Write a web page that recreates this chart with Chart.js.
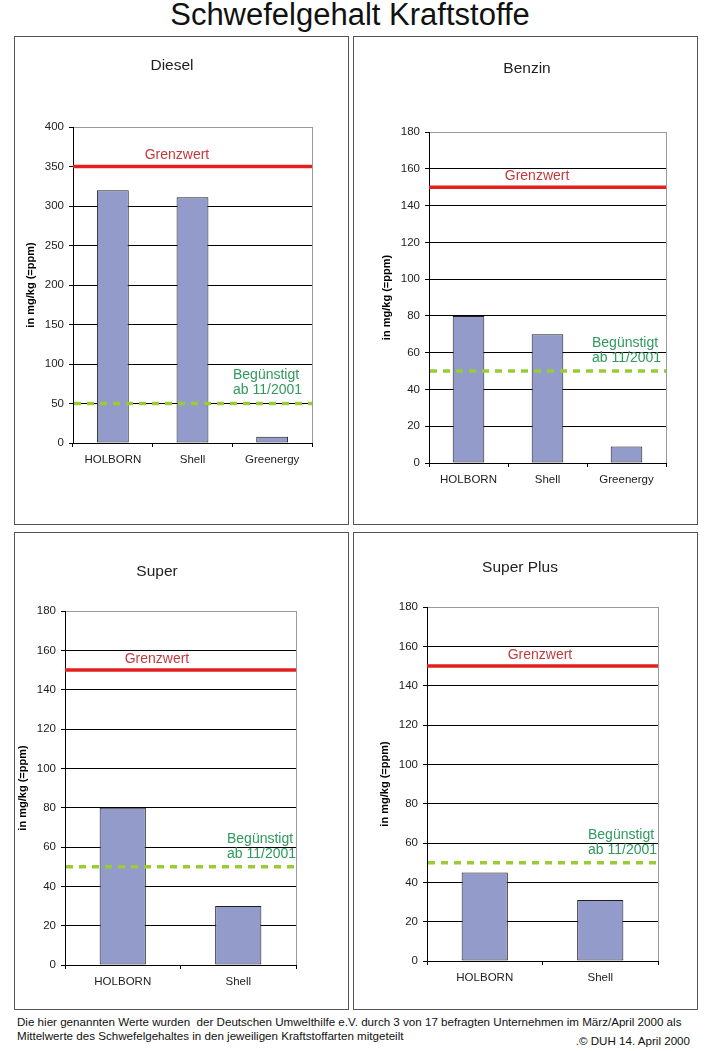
<!DOCTYPE html>
<html><head><meta charset="utf-8">
<script src="https://cdn.jsdelivr.net/npm/chart.js@4/dist/chart.umd.min.js"></script>
<style>
html,body{margin:0;padding:0;background:#fff;}
body{width:710px;height:1051px;position:relative;overflow:hidden;font-family:"Liberation Sans",Arial,sans-serif;}
.box{position:absolute;border:1px solid #555;box-sizing:border-box;}
canvas.c{position:absolute;}
#title{position:absolute;left:0;width:700px;top:-3px;text-align:center;font-size:31px;line-height:35px;color:#111;}
.foot{position:absolute;font-size:11.6px;line-height:13px;color:#111;white-space:nowrap;}
</style></head><body>
<div id="title">Schwefelgehalt Kraftstoffe</div>
<div class="foot" style="left:17px;top:1015px;">Die hier genannten Werte wurden&nbsp; der Deutschen Umwelthilfe e.V. durch 3 von 17 befragten Unternehmen im März/April 2000 als</div>
<div class="foot" style="left:17px;top:1029px;">Mittelwerte des Schwefelgehaltes in den jeweiligen Kraftstoffarten mitgeteilt</div>
<div class="foot" style="right:20px;top:1034px;">.© DUH 14. April 2000</div>
<script>
// ---- data ----
const panelTitles = ['Diesel', 'Benzin', 'Super', 'Super Plus'];
const dieselCompanies = ['HOLBORN', 'Shell', 'Greenergy'];
const dieselSulfur = [320, 311, 8];
const benzinCompanies = ['HOLBORN', 'Shell', 'Greenergy'];
const benzinSulfur = [80, 70, 9];
const superCompanies = ['HOLBORN', 'Shell'];
const superSulfur = [80, 30];
const superPlusCompanies = ['HOLBORN', 'Shell'];
const superPlusSulfur = [45, 31];
const limitValues = [350, 150, 150, 150];      // Grenzwert
const favouredValues = [50, 50, 50, 50];       // Begünstigt ab 11/2001
const axisMax = [400, 180, 180, 180];
const axisStep = [50, 20, 20, 20];
const limitLabel = 'Grenzwert';
const favouredLabel = ['Begünstigt', 'ab 11/2001'];
const yAxisTitle = 'in mg/kg (=ppm)';

// ---- layout (page pixel positions) ----
const layouts = [
  {box:[14,36,335,489], plot:[73,127,312,443], title:[172,66], limFrac:0.435, favLeft:79},
  {box:[353,36,345,489], plot:[429,132,666,463], title:[527,69], limFrac:0.456, favLeft:74},
  {box:[14,532,335,478], plot:[65,611,296,965], title:[157,572], limFrac:0.398, favLeft:69},
  {box:[353,532,345,478], plot:[427,607,658,961], title:[520,568], limFrac:0.489, favLeft:70}
];
const FAM = "'Liberation Sans', Arial, sans-serif";
Chart.defaults.font.family = FAM;

function makeChart(i, cats, vals) {
  const L = layouts[i];
  const [bx, by, bw, bh] = L.box;
  const [pl, pt, pr, pb] = L.plot;
  const YW = 49, XH = 30;
  const border = document.createElement('div');
  border.className = 'box';
  border.style.cssText = `left:${bx}px;top:${by}px;width:${bw}px;height:${bh}px;`;
  document.body.appendChild(border);
  const cv = document.createElement('canvas');
  cv.className = 'c';
  cv.width = bw; cv.height = bh;
  cv.style.cssText = `left:${bx}px;top:${by}px;width:${bw}px;height:${bh}px;`;
  document.body.appendChild(cv);

  const deco = {
    id: 'deco' + i,
    beforeDatasetsDraw(chart) {
      const c = chart.ctx, a = chart.chartArea;
      c.save();
      c.strokeStyle = '#9a9a9a'; c.lineWidth = 1;
      c.beginPath();
      c.moveTo(Math.round(a.right) + 0.5, a.top);
      c.lineTo(Math.round(a.right) + 0.5, a.bottom);
      c.stroke();
      c.restore();
    },
    afterDatasetsDraw(chart) {
      const c = chart.ctx, a = chart.chartArea, y = chart.scales.y;
      const yl = y.getPixelForValue(limitValues[i]);
      const yf = y.getPixelForValue(favouredValues[i]);
      c.save();
      // reference lines, placed through the y scale
      c.lineWidth = 3.5;
      c.strokeStyle = '#e3201f';
      c.beginPath(); c.moveTo(a.left, yl); c.lineTo(a.right, yl); c.stroke();
      c.strokeStyle = '#99cc33';
      c.setLineDash([7, 6]);
      c.beginPath(); c.moveTo(a.left + 1, yf); c.lineTo(a.right, yf); c.stroke();
      c.setLineDash([]);
      c.textBaseline = 'middle';
      // panel title
      c.font = `15.5px ${FAM}`; c.fillStyle = '#222'; c.textAlign = 'center';
      c.fillText(panelTitles[i], L.title[0] - bx, L.title[1] - by);
      // Grenzwert label
      c.font = `14px ${FAM}`; c.fillStyle = '#c43a3c'; c.textAlign = 'center';
      c.fillText(limitLabel, a.left + L.limFrac * (a.right - a.left), yl - 11);
      // favoured label
      c.fillStyle = '#2f9a5c'; c.textAlign = 'left';
      c.fillText(favouredLabel[0], a.right - L.favLeft, yf - 28);
      c.fillText(favouredLabel[1], a.right - L.favLeft, yf - 13);
      c.restore();
    }
  };

  new Chart(cv, {
    type: 'bar',
    data: {
      labels: cats,
      datasets: [
        {data: vals, backgroundColor:'#939bcb', borderColor:'#1e1e1e', borderWidth:1,
         borderSkipped:false, barPercentage:0.4, categoryPercentage:1}
      ]
    },
    options: {
      responsive:false, animation:false, devicePixelRatio:1,
      layout:{padding:{left: pl - bx - YW, top: pt - by, right: bx + bw - pr, bottom: by + bh - pb - XH}},
      plugins:{legend:{display:false}, tooltip:{enabled:false}, title:{display:false}},
      scales:{
        x:{type:'category',
           grid:{display:true, drawOnChartArea:false, drawTicks:true, tickLength:4, color:'#000', offset:true},
           border:{color:'#000', width:1},
           ticks:{color:'#222', font:{size:11.5}, padding:6, maxRotation:0},
           afterFit:(s) => { s.height = XH; }},
        y:{min:0, max:axisMax[i],
           ticks:{stepSize:axisStep[i], color:'#222', font:{size:11.5}, padding:5},
           grid:{color:(ctx) => (ctx.tick && ctx.tick.value === axisMax[i]) ? '#9a9a9a' : '#000',
                 tickColor:'#000', tickLength:4, lineWidth:1},
           border:{color:'#000', width:1},
           title:{display:true, text:yAxisTitle, font:{size:11, weight:'bold'}, color:'#000', padding:0},
           afterFit:(s) => { s.width = YW; }}
      }
    },
    plugins:[deco]
  });
}

makeChart(0, dieselCompanies, dieselSulfur);
makeChart(1, benzinCompanies, benzinSulfur);
makeChart(2, superCompanies, superSulfur);
makeChart(3, superPlusCompanies, superPlusSulfur);
</script>
</body></html>
